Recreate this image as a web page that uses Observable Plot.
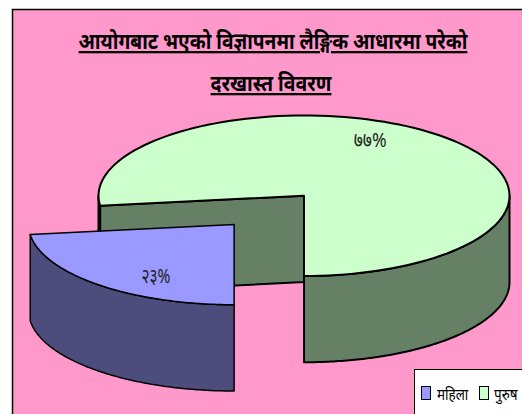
<!DOCTYPE html>
<html>
<head>
<meta charset="utf-8">
<script src="https://cdn.jsdelivr.net/npm/d3@7"></script>
<script src="https://cdn.jsdelivr.net/npm/@observablehq/plot@0.6"></script>
<style>
  html, body { margin: 0; padding: 0; background: #fff; overflow: hidden; }
  #chart { position: relative; width: 522px; height: 414px; }
  svg { display: block; }
  .title text { text-decoration: underline; text-decoration-thickness: 3px; font-weight: bold; }
  #legend { position: absolute; left: 414px; top: 369px; width: 110px; height: 47px; box-sizing: border-box;
    background: #fff; border: 1px solid #000; font: 16px "Noto Sans", "DejaVu Sans", sans-serif; }
  #legend span { position: absolute; top: 14px; line-height: 20px; white-space: nowrap; transform: scaleX(0.84); transform-origin: left center; }
  #legend i { position: absolute; top: 16px; width: 10px; height: 14px; border: 1.5px solid #000; box-sizing: border-box; }
</style>
</head>
<body>
<div id="chart"></div>
<script>
const categories = ["महिला", "पुरुष"];
const shares = [23, 77];
const shareLabels = ["२३%", "७७%"];
const titleLines = ["आयोगबाट भएको विज्ञापनमा लैङ्गिक आधारमा परेको", "दरखास्त विवरण"];
const topColors = ["#9999ff", "#ccffcc"];
const sideColors = ["#4d4d7d", "#668066"];

const depth = 1.075;
const explode = [-0.34, 0.358];
const startDeg = 180;
const womanEnd = startDeg + shares[0] * 3.6;
const manEnd = womanEnd + shares[1] * 3.6;

const rad = d => d * Math.PI / 180;
const rim = (a, b, ox = 0, oy = 0, dz = 0) =>
  d3.range(0, 121).map(i => {
    const t = rad(a + (b - a) * i / 120);
    return { x: ox + Math.sin(t), y: oy - Math.cos(t) + dz };
  });
const apex = (ox = 0, oy = 0, dz = 0) => ({ x: ox, y: oy + dz });
const closed = pts => [...pts, pts[0]];
const band = (a, b, ox = 0, oy = 0) =>
  closed([...rim(a, b, ox, oy), ...rim(b, a, ox, oy, depth)]);
const wedge = (a, b, ox = 0, oy = 0) =>
  closed([apex(ox, oy), ...rim(a, b, ox, oy)]);

const [ex, ey] = explode;
const leftEdge = rim(womanEnd, womanEnd)[0];
const wall = closed([apex(), leftEdge, { x: leftEdge.x, y: leftEdge.y + depth }, apex(0, 0, depth)]);

const mid = a => { const t = rad(a); return { x: 0.7 * Math.sin(t), y: -0.7 * Math.cos(t) }; };
const midW = mid((startDeg + womanEnd) / 2);
const midM = mid((womanEnd + manEnd) / 2);
const ink = { stroke: "#000", strokeWidth: 2, strokeLinejoin: "round", curve: "linear" };
const font = '"Noto Sans", "DejaVu Sans", sans-serif';
const xy = { x: "x", y: "y" };

const plot = Plot.plot({
  width: 522,
  height: 414,
  marginLeft: 12,
  marginTop: 9,
  marginRight: 0,
  marginBottom: 0,
  style: { background: "#fff", overflow: "visible" },
  x: { domain: [-1, 1], range: [98, 509], axis: null },
  y: { domain: [-1, 1], range: [115, 275.5], axis: null },
  marks: [
    Plot.frame({ fill: "#ff99cc", stroke: "#000", strokeWidth: 1.5, insetRight: -4, insetBottom: -4 }),
    Plot.line(wall, { ...xy, fill: sideColors[1], ...ink }),
    Plot.line(band(90, 180), { ...xy, fill: sideColors[1], ...ink }),
    Plot.line(band(womanEnd, 270), { ...xy, fill: sideColors[1], ...ink }),
    Plot.line(wedge(womanEnd, manEnd), { ...xy, fill: topColors[1], ...ink }),
    Plot.line(band(startDeg, womanEnd, ex, ey), { ...xy, fill: sideColors[0], ...ink, strokeWidth: 1.5 }),
    Plot.line(wedge(startDeg, womanEnd, ex, ey), { ...xy, fill: topColors[0], ...ink, strokeWidth: 1.5 }),
    Plot.text([shareLabels[0]], { x: midW.x + ex, y: midW.y + ey, dx: 17, dy: 10, fontSize: 20, fill: "#222", fontFamily: font, className: "pct0" }),
    Plot.text([shareLabels[1]], { x: midM.x, y: midM.y, dx: -29, dy: -13, fontSize: 20, fill: "#222", fontFamily: font, className: "pct1" }),
    Plot.text([titleLines[0]], { frameAnchor: "top", dx: 5.5, dy: 23, fontSize: 23, fill: "#000", fontFamily: font, className: "title t0", lineAnchor: "top" }),
    Plot.text([titleLines[1]], { frameAnchor: "top", dx: 3.5, dy: 65, fontSize: 23, fill: "#000", fontFamily: font, className: "title t1", lineAnchor: "top" })
  ]
});
const chart = document.getElementById("chart");
chart.appendChild(plot);

const fit = [[".t0", 389], [".t1", 121], [".pct0", 29], [".pct1", 33]];
fit.forEach(([sel, len]) => {
  plot.querySelectorAll(sel + " text").forEach(t => {
    const k = len / t.getComputedTextLength();
    const prev = t.getAttribute("transform") || "";
    t.setAttribute("transform", prev + " scale(" + k + ",1)");
  });
});

const legend = document.createElement("div");
legend.id = "legend";
const swatchLeft = [6, 64];
const textLeft = [22, 79];
categories.forEach((c, i) => {
  const sw = document.createElement("i");
  sw.style.left = swatchLeft[i] + "px";
  sw.style.background = topColors[i];
  legend.appendChild(sw);
  const s = document.createElement("span");
  s.style.left = textLeft[i] + "px";
  s.textContent = c;
  legend.appendChild(s);
});
chart.appendChild(legend);
</script>
</body>
</html>
